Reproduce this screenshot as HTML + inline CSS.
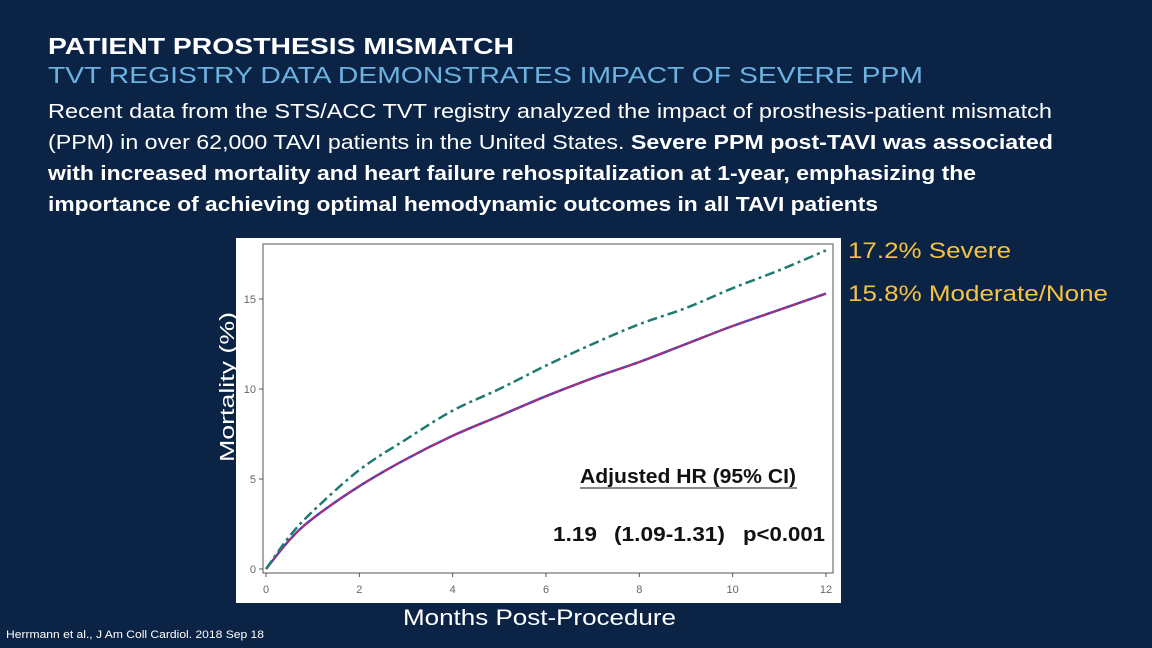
<!DOCTYPE html>
<html><head><meta charset="utf-8"><style>
html,body{margin:0;padding:0;background:#0b2446;}
svg{display:block;font-family:"Liberation Sans",sans-serif;}
</style></head><body>
<svg id="s" width="1152" height="648" viewBox="0 0 1152 648">
<rect width="1152" height="648" fill="#0b2446"/>
<text x="48" y="54" font-size="23" font-weight="bold" fill="#ffffff" textLength="466" lengthAdjust="spacingAndGlyphs">PATIENT PROSTHESIS MISMATCH</text>
<text x="48" y="83" font-size="23" fill="#6cb2e0" textLength="875" lengthAdjust="spacingAndGlyphs">TVT REGISTRY DATA DEMONSTRATES IMPACT OF SEVERE PPM</text>
<g font-size="20" fill="#ffffff">
<text x="48" y="118" textLength="1004" lengthAdjust="spacingAndGlyphs">Recent data from the STS/ACC TVT registry analyzed the impact of prosthesis-patient mismatch</text>
<text x="48" y="149" textLength="1005" lengthAdjust="spacingAndGlyphs">(PPM) in over 62,000 TAVI patients in the United States. <tspan font-weight="bold">Severe PPM post-TAVI was associated</tspan></text>
<text x="48" y="180" font-weight="bold" textLength="928" lengthAdjust="spacingAndGlyphs">with increased mortality and heart failure rehospitalization at 1-year, emphasizing the</text>
<text x="48" y="211" font-weight="bold" textLength="830" lengthAdjust="spacingAndGlyphs">importance of achieving optimal hemodynamic outcomes in all TAVI patients</text>
</g>
<rect x="236" y="238" width="605" height="365" fill="#ffffff"/>
<rect x="263" y="244" width="570" height="329" fill="none" stroke="#555" stroke-width="1"/>
<g id="axes"></g>
<g id="series"></g>
<text x="580" y="483" font-size="20" font-weight="bold" fill="#111" textLength="216" lengthAdjust="spacingAndGlyphs">Adjusted HR (95% CI)</text>
<line x1="580" y1="488" x2="797" y2="488" stroke="#888" stroke-width="2"/>
<text y="541" font-size="20" font-weight="bold" fill="#111"><tspan x="553" textLength="44" lengthAdjust="spacingAndGlyphs">1.19</tspan><tspan x="614" textLength="111" lengthAdjust="spacingAndGlyphs">(1.09-1.31)</tspan><tspan x="743" textLength="82" lengthAdjust="spacingAndGlyphs">p&lt;0.001</tspan></text>
<text transform="translate(234,462) rotate(-90)" font-size="20" fill="#ffffff" textLength="150" lengthAdjust="spacingAndGlyphs">Mortality (%)</text>
<text x="403" y="625" font-size="22" fill="#ffffff" textLength="273" lengthAdjust="spacingAndGlyphs">Months Post-Procedure</text>
<text x="848" y="258" font-size="22" fill="#f5c242" textLength="163" lengthAdjust="spacingAndGlyphs">17.2% Severe</text>
<text x="848" y="301" font-size="22" fill="#f5c242" textLength="260" lengthAdjust="spacingAndGlyphs">15.8% Moderate/None</text>
<text x="6" y="638" font-size="11" fill="#ffffff" textLength="258" lengthAdjust="spacingAndGlyphs">Herrmann et al., J Am Coll Cardiol. 2018 Sep 18</text>
</svg>
<script>
const months = [0,0.5,1,2,3,4,5,6,7,8,9,10,11,12];
const severe = [0,1.8,3.2,5.5,7.2,8.8,10.0,11.3,12.5,13.6,14.5,15.6,16.6,17.7];
const moderate = [0,1.6,2.8,4.6,6.1,7.4,8.5,9.6,10.6,11.5,12.5,13.5,14.4,15.3];
const xTicks = [0,2,4,6,8,10,12];
const yTicks = [0,5,10,15];
const NS = 'http://www.w3.org/2000/svg';
const X = v => 266 + v * (826 - 266) / 12;
const Y = v => 569 - v * 18;
const axes = document.getElementById('axes');
const series = document.getElementById('series');
function mk(tag, attrs, parent){const e=document.createElementNS(NS,tag);for(const k in attrs)e.setAttribute(k,attrs[k]);parent.appendChild(e);return e;}
xTicks.forEach(t=>{
  const l=mk('line',{x1:X(t),x2:X(t),y1:573,y2:577,stroke:'#555'},axes);
  
  
  const tx=mk('text',{x:X(t),y:593,'font-size':11,fill:'#666','text-anchor':'middle'},axes);
  tx.textContent=t;
  
  
});
yTicks.forEach(t=>{
  const l=mk('line',{x1:259,x2:263,y1:Y(t),y2:Y(t),stroke:'#555'},axes);
  
  
  const tx=mk('text',{x:256,y:Y(t)+4,'font-size':11,fill:'#666','text-anchor':'end'},axes);
  tx.textContent=t;
  
  
});
function path(vals){
  const pts=months.map((m,i)=>[X(m),Y(vals[i])]);
  let d='M'+pts[0][0]+','+pts[0][1];
  for(let i=1;i<pts.length;i++){
    const p0=pts[Math.max(0,i-2)],p1=pts[i-1],p2=pts[i],p3=pts[Math.min(pts.length-1,i+1)];
    const c1=[p1[0]+(p2[0]-p0[0])/6,p1[1]+(p2[1]-p0[1])/6];
    const c2=[p2[0]-(p3[0]-p1[0])/6,p2[1]-(p3[1]-p1[1])/6];
    d+=' C'+c1+' '+c2+' '+p2;
  }
  return d;
}
const pm=mk('path',{d:path(moderate),fill:'none',stroke:'#4a3fc0','stroke-width':2.5},series);


const pm2=mk('path',{d:path(moderate),fill:'none',stroke:'#c8285a','stroke-width':1.5,'stroke-dasharray':'8 3'},series);


const ps=mk('path',{d:path(severe),fill:'none',stroke:'#1f7a70','stroke-width':2.5,'stroke-dasharray':'10 4 3 4'},series);


</script>
</body></html>
